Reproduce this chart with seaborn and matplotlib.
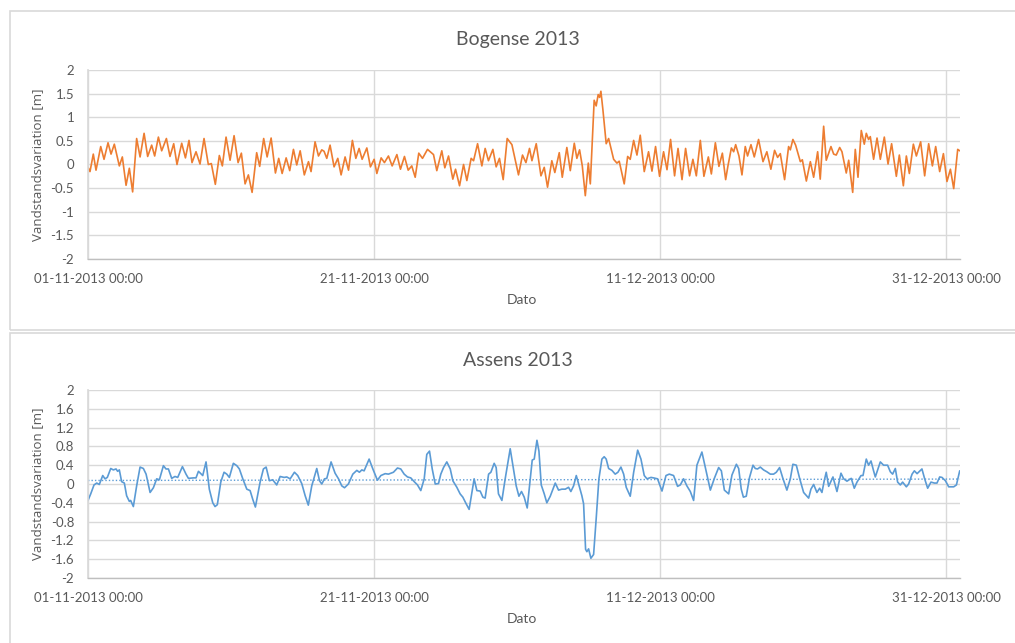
import numpy as np
import pandas as pd
import matplotlib
matplotlib.use("Agg")
import matplotlib.pyplot as plt
import matplotlib.dates as mdates
from matplotlib.patches import Rectangle
from matplotlib.ticker import FuncFormatter
import seaborn as sns

# Bogense water level (days since 01-11-2013 00:00, metres)
bogense_days = [
    0.00, 0.14, 0.37, 0.56, 0.89, 1.12, 1.40, 1.61, 1.84, 2.19, 2.40, 2.66, 2.89, 3.12, 3.40, 3.64,
    3.92, 4.17, 4.45, 4.66, 4.92, 5.15, 5.48, 5.73, 5.99, 6.22, 6.55, 6.81, 7.06, 7.27, 7.55, 7.83,
    8.11, 8.41, 8.62, 8.90, 9.18, 9.39, 9.65, 9.93, 10.21, 10.49, 10.72, 10.98, 11.21, 11.47, 11.79,
    12.00, 12.28, 12.52, 12.80, 13.10, 13.33, 13.57, 13.85, 14.10, 14.36, 14.59, 14.83, 15.12,
    15.41, 15.59, 15.87, 16.11, 16.34, 16.50, 16.69, 16.92, 17.20, 17.46, 17.69, 17.97, 18.21,
    18.48, 18.72, 18.95, 19.16, 19.49, 19.74, 20.00, 20.19, 20.49, 20.72, 21.00, 21.26, 21.59,
    21.84, 22.12, 22.38, 22.63, 22.87, 23.12, 23.38, 23.73, 24.15, 24.38, 24.73, 24.94, 25.20,
    25.50, 25.69, 25.97, 26.25, 26.48, 26.78, 26.95, 27.23, 27.53, 27.76, 27.99, 28.30, 28.53,
    28.76, 29.02, 29.30, 29.63, 30.09, 30.37, 30.61, 30.86, 31.03, 31.33, 31.66, 31.89, 32.12,
    32.42, 32.63, 32.94, 33.15, 33.47, 33.71, 33.99, 34.17, 34.36, 34.55, 34.76, 34.97, 35.11,
    35.38, 35.52, 35.66, 35.76, 35.85, 35.99, 36.22, 36.39, 36.74, 36.97, 37.13, 37.48, 37.72,
    37.90, 38.14, 38.37, 38.60, 38.88, 39.18, 39.42, 39.67, 39.95, 40.23, 40.47, 40.72, 41.00,
    41.24, 41.52, 41.77, 42.05, 42.28, 42.52, 42.80, 43.05, 43.36, 43.57, 43.85, 44.10, 44.34,
    44.57, 44.73, 44.97, 45.13, 45.27, 45.50, 45.71, 45.94, 46.10, 46.34, 46.57, 46.87, 47.18,
    47.45, 47.73, 47.99, 48.20, 48.39, 48.69, 48.97, 49.09, 49.27, 49.46, 49.79, 49.93, 50.21,
    50.49, 50.72, 51.00, 51.18, 51.42, 51.60, 51.93, 52.12, 52.30, 52.54, 52.70, 53.00, 53.17,
    53.45, 53.63, 53.82, 54.05, 54.26, 54.40, 54.56, 54.68, 54.91, 55.15, 55.38, 55.66, 55.92,
    56.17, 56.50, 56.71, 56.99, 57.20, 57.41, 57.69, 57.90, 58.20, 58.48, 58.76, 59.02, 59.25,
    59.53, 59.79, 60.04, 60.28, 60.51, 60.79, 60.93,
]
bogense_level = [
    -0.06, -0.15, 0.22, -0.12, 0.38, 0.11, 0.46, 0.22, 0.43, -0.03, 0.16, -0.44, -0.08, -0.58, 0.55, 0.16,
    0.66, 0.17, 0.41, 0.18, 0.58, 0.29, 0.55, 0.17, 0.44, 0.00, 0.45, 0.14, 0.51, 0.04, 0.27, 0.01,
    0.55, 0.00, 0.02, -0.42, 0.19, -0.03, 0.58, 0.09, 0.61, 0.04, 0.24, -0.41, -0.22, -0.59, 0.25,
    -0.04, 0.55, 0.16, 0.56, -0.18, 0.13, -0.19, 0.14, -0.13, 0.32, -0.01, 0.29, -0.22,
    0.06, -0.15, 0.48, 0.18, 0.31, 0.28, 0.13, 0.41, -0.05, 0.13, -0.22, 0.16, -0.12,
    0.51, 0.13, 0.34, 0.11, 0.35, -0.05, 0.11, -0.19, 0.14, 0.04, 0.18, -0.03, 0.21,
    -0.10, 0.17, -0.12, -0.03, -0.27, 0.24, 0.13, 0.32, 0.21, -0.13, 0.29, -0.07, 0.18,
    -0.31, -0.10, -0.45, 0.00, -0.34, 0.13, 0.08, 0.44, -0.03, 0.34, 0.08, 0.32, -0.05,
    0.13, -0.32, 0.55, 0.42, -0.22, 0.20, 0.04, 0.34, 0.08, 0.44, -0.24, -0.06, -0.48,
    0.08, -0.17, 0.25, -0.27, 0.36, -0.13, 0.45, 0.13, 0.31, -0.03, -0.66, 0.03, -0.41,
    1.36, 1.24, 1.48, 1.42, 1.55, 1.16, 0.44, 0.55, 0.11, 0.03, 0.07, -0.41, 0.17,
    0.11, 0.51, 0.20, 0.62, -0.15, 0.27, -0.14, 0.38, -0.25, 0.27, -0.11, 0.53, -0.24,
    0.34, -0.32, 0.34, -0.24, 0.11, -0.24, 0.51, -0.25, 0.16, -0.20, 0.46, -0.04, 0.24,
    -0.32, -0.03, 0.35, 0.27, 0.42, 0.18, -0.22, 0.38, 0.18, 0.42, 0.16, 0.53, 0.06,
    0.27, -0.10, 0.30, 0.15, 0.23, -0.32, 0.38, 0.31, 0.53, 0.41, 0.06, 0.10, -0.35,
    0.06, -0.27, 0.27, -0.31, 0.81, 0.09, 0.38, 0.22, 0.20, 0.36, 0.27, -0.18, 0.09,
    -0.59, 0.32, -0.27, 0.72, 0.43, 0.66, 0.53, 0.59, 0.11, 0.56, 0.11, 0.58, 0.01,
    0.44, -0.25, 0.20, -0.45, 0.18, -0.19, 0.43, 0.18, 0.48, -0.24, 0.44, -0.03, 0.38,
    -0.15, 0.23, -0.36, -0.10, -0.51, 0.32, 0.29,
]

# Assens water level
assens_days = [
    0.00, 0.19, 0.42, 0.61, 0.79, 1.03, 1.19, 1.35, 1.59, 1.77, 1.96, 2.07, 2.19, 2.35, 2.54, 2.70,
    2.89, 2.98, 3.17, 3.40, 3.64, 3.87, 4.06, 4.34, 4.57, 4.80, 4.99, 5.27, 5.45, 5.62, 5.85, 6.08,
    6.27, 6.60, 6.85, 7.02, 7.37, 7.55, 7.72, 8.02, 8.25, 8.48, 8.72, 8.88, 9.04, 9.28, 9.51, 9.70,
    9.88, 10.16, 10.40, 10.58, 10.82, 11.10, 11.33, 11.52, 11.70, 12.03, 12.26, 12.45, 12.68,
    12.91, 13.19, 13.43, 13.71, 13.89, 14.13, 14.43, 14.66, 14.94, 15.18, 15.40,
    15.64, 15.99, 16.18, 16.34, 16.53, 16.69, 16.99, 17.27, 17.51, 17.74, 17.93, 18.20, 18.51,
    18.79, 18.97, 19.14, 19.30, 19.65, 19.91, 20.23, 20.47, 20.77, 21.00, 21.35, 21.63, 21.86,
    22.10, 22.33, 22.56, 22.80, 23.03, 23.26, 23.50, 23.68, 23.87, 24.06, 24.27, 24.50, 24.66,
    24.85, 25.08, 25.32, 25.50, 25.78, 26.01, 26.20, 26.43, 26.64, 26.83, 26.99, 27.18, 27.41,
    27.60, 27.76, 28.00, 28.16, 28.39, 28.53, 28.69, 28.93, 29.16, 29.51, 29.74, 29.93, 30.12,
    30.30, 30.49, 30.70, 30.91, 31.05, 31.19, 31.38, 31.52, 31.68, 31.89, 32.07, 32.31, 32.66,
    32.89, 33.12, 33.36, 33.59, 33.75, 33.94, 34.13, 34.29, 34.52, 34.64, 34.78, 34.87, 34.99,
    35.15, 35.34, 35.52, 35.71, 35.92, 36.08, 36.22, 36.39, 36.62, 36.85, 37.04, 37.25, 37.44,
    37.62, 37.90, 38.14, 38.42, 38.65, 38.88, 39.07, 39.35, 39.53, 39.81, 40.12, 40.40, 40.63,
    40.93, 41.21, 41.40, 41.63, 41.86, 42.10, 42.33, 42.56, 42.91, 43.15, 43.50, 43.78, 44.08,
    44.27, 44.48, 44.78, 45.01, 45.32, 45.48, 45.66, 45.81, 46.01, 46.24, 46.48, 46.64, 46.80,
    46.99, 47.22, 47.45, 47.69, 47.92, 48.11, 48.34, 48.57, 48.85, 49.09, 49.27, 49.51, 49.74,
    50.02, 50.37, 50.53, 50.72, 50.95, 51.14, 51.30, 51.46, 51.60, 51.77, 52.07, 52.35, 52.63,
    52.82, 53.05, 53.35, 53.56, 53.75, 54.03, 54.17, 54.40, 54.56, 54.73, 54.91, 55.03, 55.38,
    55.61, 55.89, 56.08, 56.24, 56.43, 56.59, 56.78, 56.94, 57.20, 57.36, 57.60, 57.76, 57.95,
    58.29, 58.48, 58.69, 58.92, 59.16, 59.34, 59.53, 59.69, 59.93, 60.16, 60.51, 60.70, 60.93,
]
assens_level = [
    -0.35, -0.21, -0.02, 0.02, -0.01, 0.18, 0.11, 0.14, 0.33, 0.30, 0.32, 0.27, 0.30, 0.05, 0.02, -0.25,
    -0.37, -0.35, -0.48, -0.04, 0.36, 0.33, 0.21, -0.18, -0.08, 0.11, 0.09, 0.39, 0.32, 0.32, 0.12, 0.16,
    0.14, 0.37, 0.21, 0.12, 0.13, 0.13, 0.27, 0.18, 0.47, -0.11, -0.40, -0.48, -0.44, 0.04, 0.25, 0.21,
    0.14, 0.44, 0.39, 0.32, 0.11, -0.11, -0.14, -0.33, -0.49, 0.04, 0.32, 0.36, 0.07,
    0.09, -0.02, 0.16, 0.14, 0.15, 0.11, 0.25, 0.18, 0.01, -0.25, -0.45,
    -0.04, 0.33, 0.07, 0.00, 0.11, 0.12, 0.47, 0.23, 0.11, -0.04, -0.08, 0.00, 0.21,
    0.29, 0.25, 0.30, 0.28, 0.53, 0.32, 0.08, 0.18, 0.22, 0.21, 0.25, 0.34, 0.32,
    0.21, 0.15, 0.13, 0.05, -0.02, -0.14, 0.11, 0.63, 0.70, 0.32, 0.00, 0.01, 0.21,
    0.35, 0.47, 0.32, 0.07, -0.07, -0.21, -0.28, -0.42, -0.54, -0.18, 0.11, -0.14, -0.15,
    -0.28, -0.30, 0.21, 0.25, 0.44, 0.35, -0.21, -0.35, 0.11, 0.75, 0.32, -0.04, -0.26,
    -0.16, -0.28, -0.51, 0.11, 0.51, 0.53, 0.93, 0.70, -0.02, -0.21, -0.40, -0.26, 0.02,
    -0.13, -0.11, -0.11, -0.07, -0.16, -0.04, 0.18, 0.00, -0.25, -0.42, -1.39, -1.44, -1.38,
    -1.58, -1.50, -0.74, 0.11, 0.53, 0.58, 0.53, 0.33, 0.29, 0.21, 0.25, 0.36, 0.21,
    -0.07, -0.26, 0.25, 0.72, 0.53, 0.18, 0.11, 0.14, 0.13, 0.11, -0.15, 0.18, 0.21,
    0.18, -0.05, -0.02, 0.11, -0.04, -0.16, -0.35, 0.40, 0.68, 0.35, -0.13, 0.12, 0.35,
    0.28, -0.13, -0.21, 0.19, 0.42, 0.33, -0.11, -0.28, -0.26, 0.14, 0.40, 0.33, 0.32,
    0.36, 0.30, 0.26, 0.21, 0.21, 0.25, 0.35, 0.12, -0.13, 0.11, 0.42, 0.40, 0.12,
    -0.18, -0.30, -0.11, -0.01, -0.18, -0.09, -0.18, 0.07, 0.25, -0.05, 0.15, -0.16, 0.23,
    0.11, 0.06, 0.12, -0.09, 0.04, 0.18, 0.18, 0.53, 0.40, 0.49, 0.28, 0.15, 0.47,
    0.40, 0.40, 0.26, 0.21, 0.33, 0.04, -0.02, 0.04, -0.06, 0.00, 0.21, 0.28, 0.22,
    0.32, 0.11, -0.09, 0.04, 0.02, 0.02, 0.15, 0.14, 0.07, -0.06, -0.06, -0.02, 0.28,
]

# dotted linear trend on the Assens series
assens_trend_days = [0.0, 60.93]
assens_trend_level = [0.075, 0.105]

start = pd.Timestamp("2013-11-01 00:00")
x_ticks = ["2013-11-01", "2013-11-21", "2013-12-11", "2013-12-31"]
bogense_yticks = [-2, -1.5, -1, -0.5, 0, 0.5, 1, 1.5, 2]
assens_yticks = [-2, -1.6, -1.2, -0.8, -0.4, 0, 0.4, 0.8, 1.2, 1.6, 2]


def to_frame(days, values):
    return pd.DataFrame({"tid": start + pd.to_timedelta(days, unit="D"), "niveau": values})


bogense = to_frame(bogense_days, bogense_level)
assens = to_frame(assens_days, assens_level)
assens_trend = to_frame(assens_trend_days, assens_trend_level)

sns.set_theme(style="white")
plt.rcParams["font.family"] = ["Lato", "DejaVu Sans"]

W, H = 1015, 643
fig = plt.figure(figsize=(W / 100, H / 100), dpi=100)
fig.patch.set_facecolor("white")

txt = "#595959"
grid = "#d9d9d9"

# chart area borders like excel
fig.add_artist(Rectangle((10 / W, 1 - 330 / H), 1.0, 319 / H, transform=fig.transFigure,
                         fill=False, edgecolor="#d9d9d9", lw=1.2))
fig.add_artist(Rectangle((10 / W, -0.01), 1.0, 1 - 333 / H + 0.01, transform=fig.transFigure,
                         fill=False, edgecolor="#d9d9d9", lw=1.2))

panels = [
    ("Bogense 2013", bogense, "#ED7D31", bogense_yticks, 70, 259),
    ("Assens 2013", assens, "#5B9BD5", assens_yticks, 390, 578),
]

for title, df, col, yt, top, bot in panels:
    ax = fig.add_axes([88 / W, 1 - bot / H, 872 / W, (bot - top) / H])
    sns.lineplot(data=df, x="tid", y="niveau", color=col, lw=1.2, ax=ax)
    if title.startswith("Assens"):
        sns.lineplot(data=assens_trend, x="tid", y="niveau", color=col, lw=1.0,
                     linestyle=(0, (1, 1.5)), ax=ax)
    ax.set_ylim(-2, 2)
    ax.set_xlim(start, start + pd.Timedelta(days=60.95))
    ax.set_yticks(yt)
    ax.yaxis.set_major_formatter(FuncFormatter(lambda v, p: f"{v:g}"))
    ax.set_xticks(pd.to_datetime(x_ticks))
    ax.xaxis.set_major_formatter(mdates.DateFormatter("%d-%m-%Y %H:%M"))
    ax.grid(True, color=grid, lw=1.0)
    ax.set_axisbelow(True)
    ax.tick_params(length=0, labelsize=9.5, labelcolor=txt)
    ax.tick_params(axis="y", pad=10)
    ax.tick_params(axis="x", pad=10)
    for s in ["top", "right"]:
        ax.spines[s].set_visible(False)
    ax.spines["left"].set_color(grid)
    ax.spines["bottom"].set_color("#bfbfbf")
    ax.spines["bottom"].set_linewidth(1.0)
    ax.set_xlabel("")
    ax.set_ylabel("")
    fig.text(518 / W, 1 - (top - 30) / H, title, ha="center", va="center",
             fontsize=14, color=txt)
    fig.text(522 / W, 1 - (bot + 41) / H, "Dato", ha="center", va="center",
             fontsize=10, color=txt)
    fig.text(38 / W, 1 - (top + bot) / 2 / H, "Vandstandsvariation [m]", rotation=90,
             ha="center", va="center", fontsize=9.5, color=txt, family=["Open Sans", "DejaVu Sans"])

fig.savefig("out.png", dpi=100)
